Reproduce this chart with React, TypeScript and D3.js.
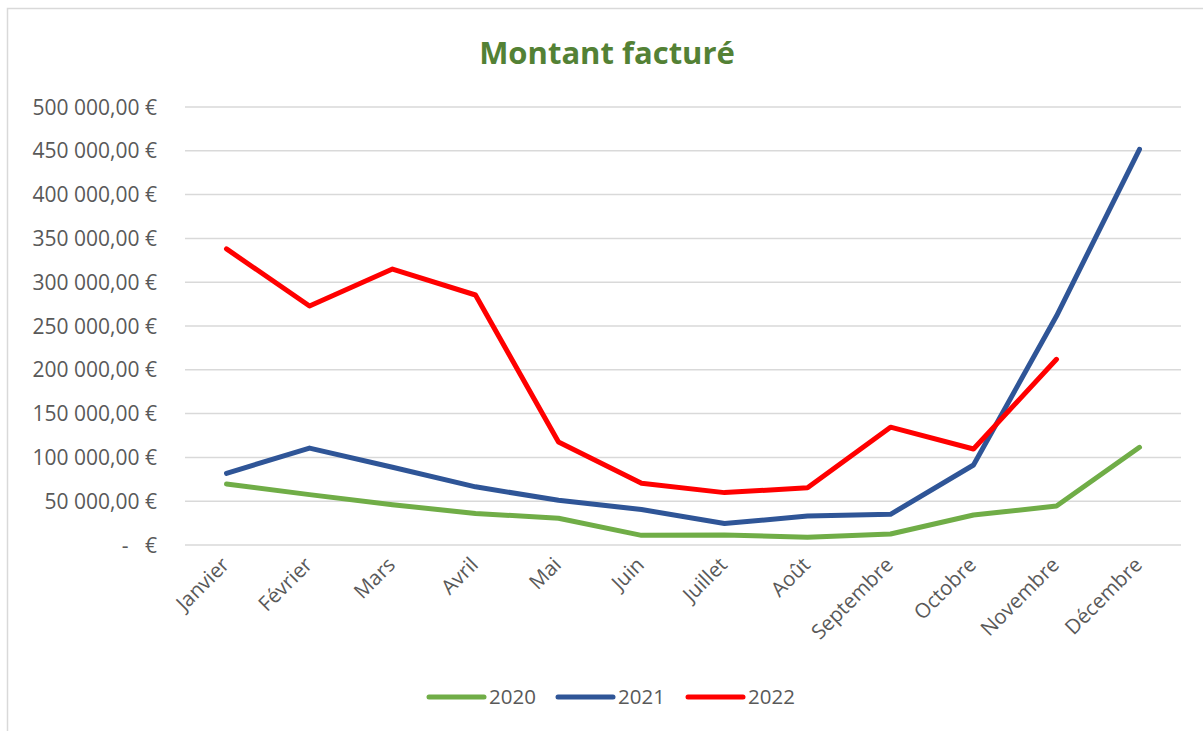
import { useEffect, useRef } from 'react';
import * as d3 from 'd3';

const months = [
  'Janvier', 'Février', 'Mars', 'Avril', 'Mai', 'Juin',
  'Juillet', 'Août', 'Septembre', 'Octobre', 'Novembre', 'Décembre',
];

const values2020 = [69600, 57500, 46000, 36000, 30500, 11000, 11400, 8800, 12600, 34200, 44500, 111500];
const values2021 = [81800, 110600, 88700, 66400, 51000, 40500, 24500, 33000, 35000, 91300, 261400, 451700];
const values2022 = [338000, 272800, 315000, 285400, 117500, 70400, 59800, 65400, 134500, 109600, 212000];

const yTicks = [0, 50000, 100000, 150000, 200000, 250000, 300000, 350000, 400000, 450000, 500000];

const seriesNames = ['2020', '2021', '2022'];
const seriesColors = ['#70AD47', '#2F5597', '#FF0000'];
const seriesValues = [values2020, values2021, values2022];

export default function App() {
  const svgRef = useRef<SVGSVGElement>(null);

  useEffect(() => {
    if (!svgRef.current) return;
    const W = 1203;
    const H = 731;
    const svg = d3.select(svgRef.current).attr('width', W).attr('height', H);
    svg.selectAll('*').remove();

    const font = "'Open Sans', sans-serif";
    const textColor = '#595959';

    // chart frame (only top and left edges visible)
    svg
      .append('rect')
      .attr('x', 7.5)
      .attr('y', 8.5)
      .attr('width', 1210)
      .attr('height', 740)
      .attr('fill', '#ffffff')
      .attr('stroke', '#D9D9D9')
      .attr('stroke-width', 1.5);

    // title
    svg
      .append('text')
      .attr('x', 607)
      .attr('y', 64)
      .attr('text-anchor', 'middle')
      .attr('font-family', font)
      .attr('font-weight', 700)
      .attr('font-size', 31)
      .attr('fill', '#538135')
      .text('Montant facturé');

    const x = d3.scaleBand().domain(months).range([185, 1181]);
    const y = d3.scaleLinear().domain([0, 500000]).range([545, 107]);
    const cx = (m: string) => (x(m) as number) + x.bandwidth() / 2;

    const loc = d3.formatLocale({
      decimal: ',',
      thousands: '\u00a0',
      grouping: [3],
      currency: ['', ' €'],
    });
    const fmt = loc.format(',.2f');

    // grid lines
    svg
      .append('g')
      .selectAll('line')
      .data(yTicks)
      .enter()
      .append('line')
      .attr('x1', 185)
      .attr('x2', 1181)
      .attr('y1', (d) => y(d))
      .attr('y2', (d) => y(d))
      .attr('stroke', '#D9D9D9')
      .attr('stroke-width', 1.5);

    // y labels
    svg
      .append('g')
      .selectAll('text')
      .data(yTicks)
      .enter()
      .append('text')
      .attr('x', 157)
      .attr('y', (d) => y(d))
      .attr('dy', '0.36em')
      .attr('text-anchor', 'end')
      .attr('font-family', font)
      .attr('font-size', 21)
      .attr('fill', textColor)
      .style('white-space', 'pre')
      .text((d) => (d === 0 ? '-\u00a0\u00a0\u00a0€' : `${fmt(d)} €`));

    // x labels
    svg
      .append('g')
      .selectAll('text')
      .data(months)
      .enter()
      .append('text')
      .attr('transform', (m) => `translate(${cx(m) + 4},${566}) rotate(-45)`)
      .attr('text-anchor', 'end')
      .attr('font-family', font)
      .attr('font-size', 20.5)
      .attr('fill', textColor)
      .text((m) => m);

    // series lines
    const line = d3
      .line<number>()
      .x((_, i) => cx(months[i]))
      .y((d) => y(d));

    seriesValues.forEach((vals, i) => {
      svg
        .append('path')
        .datum(vals)
        .attr('d', line)
        .attr('fill', 'none')
        .attr('stroke', seriesColors[i])
        .attr('stroke-width', 5)
        .attr('stroke-linecap', 'round')
        .attr('stroke-linejoin', 'round');
    });

    // legend
    const legendX = [429, 558, 688];
    const legend = svg.append('g');
    seriesNames.forEach((name, i) => {
      legend
        .append('line')
        .attr('x1', legendX[i])
        .attr('x2', legendX[i] + 55)
        .attr('y1', 697)
        .attr('y2', 697)
        .attr('stroke', seriesColors[i])
        .attr('stroke-width', 5)
        .attr('stroke-linecap', 'round');
      legend
        .append('text')
        .attr('x', legendX[i] + 60)
        .attr('y', 697)
        .attr('dy', '0.36em')
        .attr('font-family', font)
        .attr('font-size', 20.5)
        .attr('fill', textColor)
        .text(name);
    });
  }, []);

  return (
    <div style={{ position: 'absolute', left: 0, top: 0 }}>
      <svg ref={svgRef} style={{ display: 'block' }}></svg>
    </div>
  );
}
